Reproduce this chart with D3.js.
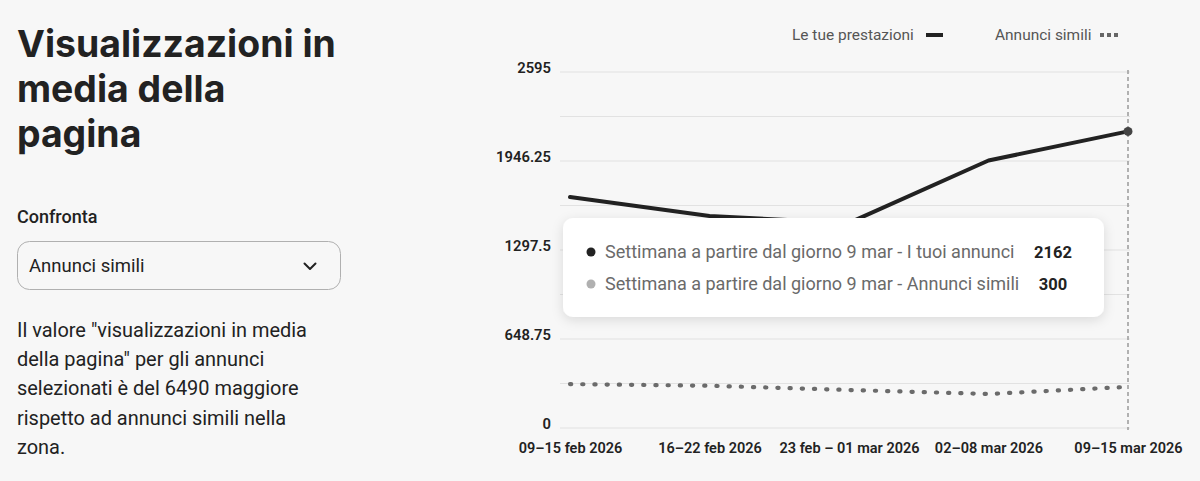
<!DOCTYPE html>
<html><head><meta charset="utf-8">
<script src="https://cdn.jsdelivr.net/npm/d3@7"></script>
<style>
html,body{margin:0;padding:0;background:#f7f7f7;}
svg{display:block;font-family:Roboto,"Noto Sans",sans-serif;}
</style></head><body>
<svg id="c" width="1200" height="481"></svg>
<script>
// ---- data ----
const categories = ["09–15 feb 2026","16–22 feb 2026","23 feb – 01 mar 2026","02–08 mar 2026","09–15 mar 2026"];
const yourValues = [1684, 1545, 1495, 1950, 2162];
const similarValues = [320, 308, 277, 248, 300];
const yMax = 2595;
const yGridTicks = [0, 324.375, 648.75, 973.125, 1297.5, 1621.875, 1946.25, 2270.625, 2595];
const yTickLabels = ["0", "648.75", "1297.5", "1946.25", "2595"];
const seriesNames = ["Le tue prestazioni", "Annunci simili"];
const titleLines = ["Visualizzazioni in", "media della", "pagina"];
const paragraphLines = ["Il valore \"visualizzazioni in media", "della pagina\" per gli annunci", "selezionati è del 6490 maggiore", "rispetto ad annunci simili nella", "zona."];
const tooltipLabels = ["Settimana a partire dal giorno 9 mar - I tuoi annunci", "Settimana a partire dal giorno 9 mar - Annunci simili"];

const svg = d3.select("#c");

// helper: fit font size so text reaches a target width
function fitSize(sel, target) {
  const w = sel.node().getComputedTextLength();
  const fs = parseFloat(sel.attr("font-size"));
  return fs * target / w;
}

// ---- left panel ----
const title = svg.append("g");
const t0 = title.append("text").attr("x", 17).attr("y", 57).attr("font-size", 36)
  .attr("font-weight", 700).attr("fill", "#222").attr("font-family", "Inter").text(titleLines[0]);
const tfs = fitSize(t0, 319);
t0.attr("font-size", tfs);
titleLines.forEach((l, i) => {
  if (i === 0) return;
  title.append("text").attr("x", 17).attr("y", 57 + i * 45).attr("font-size", tfs)
    .attr("font-weight", 700).attr("fill", "#222").attr("font-family", "Inter").text(l);
});

svg.append("text").attr("x", 17).attr("y", 223).attr("font-size", 18).attr("font-weight", 500)
  .attr("fill", "#222").text("Confronta");

svg.append("rect").attr("x", 17.5).attr("y", 241.5).attr("width", 323).attr("height", 48).attr("rx", 12)
  .attr("fill", "#f7f7f7").attr("stroke", "#b0b0b0").attr("stroke-width", 1);
svg.append("text").attr("x", 29).attr("y", 272).attr("font-size", 18.5).attr("fill", "#222").text(seriesNames[1]);
svg.append("path").attr("d", "M304.5,263.5 L310,269 L315.5,263.5").attr("fill", "none")
  .attr("stroke", "#222").attr("stroke-width", 2).attr("stroke-linecap", "round").attr("stroke-linejoin", "round");

const p0 = svg.append("text").attr("x", 17).attr("y", 337).attr("font-size", 18).attr("fill", "#222").text(paragraphLines[0]);
const pfs = fitSize(p0, 290);
p0.attr("font-size", pfs);
paragraphLines.forEach((l, i) => {
  if (i === 0) return;
  svg.append("text").attr("x", 17).attr("y", 337 + i * 29.2).attr("font-size", pfs).attr("fill", "#222").text(l);
});

// ---- chart ----
const x = d3.scalePoint().domain(categories).range([570, 1128]);
const y = d3.scaleLinear().domain([0, yMax]).range([428, 72]);

const grid = svg.append("g");
grid.selectAll("line").data(yGridTicks).join("line")
  .attr("x1", 560).attr("x2", 1130)
  .attr("y1", d => y(d)).attr("y2", d => y(d))
  .attr("stroke", "#e2e2e2").attr("stroke-width", 1.2);

// y axis labels
const yAxis = d3.axisLeft(y).tickValues(yGridTicks.filter((d, i) => i % 2 === 0))
  .tickFormat((d, i) => yTickLabels[i]).tickSize(0).tickPadding(0);
const ya = svg.append("g").attr("transform", "translate(551,-4)").call(yAxis);
ya.select(".domain").remove();
ya.selectAll("text").attr("font-size", 14.8).attr("font-weight", 600).attr("fill", "#222")
  .attr("font-family", "Roboto");

// x axis labels
const xAxis = d3.axisBottom(x).tickSize(0).tickPadding(0);
const xa = svg.append("g").attr("transform", "translate(0,443)").call(xAxis);
xa.select(".domain").remove();
xa.selectAll("text").attr("font-size", 14.5).attr("font-weight", 600).attr("fill", "#222")
  .attr("font-family", "Roboto");

// vertical hover line
const last = categories[categories.length - 1];
svg.append("line").attr("x1", x(last)).attr("x2", x(last)).attr("y1", 70).attr("y2", 430)
  .attr("stroke", "#9a9a9a").attr("stroke-width", 1.5).attr("stroke-dasharray", "4,3");

// similar series (dotted)
const line = d3.line().x((d, i) => x(categories[i])).y(d => y(d));
svg.append("path").datum(similarValues).attr("d", line).attr("fill", "none")
  .attr("stroke", "#6b6b6b").attr("stroke-width", 4.2).attr("stroke-linecap", "round")
  .attr("stroke-dasharray", "1.2,11");

// your series
svg.append("path").datum(yourValues).attr("d", line).attr("fill", "none")
  .attr("stroke", "#222").attr("stroke-width", 4).attr("stroke-linecap", "round").attr("stroke-linejoin", "round");

svg.append("circle").attr("cx", x(last)).attr("cy", y(yourValues[yourValues.length - 1])).attr("r", 4.5)
  .attr("fill", "#444");

// legend
const leg1 = svg.append("text").attr("x", 792).attr("y", 40).attr("font-size", 14).attr("fill", "#555").text(seriesNames[0]);
const lfs = fitSize(leg1, 122);
leg1.attr("font-size", lfs);
svg.append("line").attr("x1", 926).attr("x2", 943).attr("y1", 35).attr("y2", 35)
  .attr("stroke", "#222").attr("stroke-width", 4);
svg.append("text").attr("x", 995).attr("y", 40).attr("font-size", lfs).attr("fill", "#555").text(seriesNames[1]);
svg.append("line").attr("x1", 1100).attr("x2", 1119).attr("y1", 35).attr("y2", 35)
  .attr("stroke", "#666").attr("stroke-width", 4).attr("stroke-dasharray", "4,3");

// tooltip
const defs = svg.append("defs");
const f = defs.append("filter").attr("id", "sh").attr("x", "-10%").attr("y", "-30%").attr("width", "120%").attr("height", "170%");
f.append("feDropShadow").attr("dx", 0).attr("dy", 3).attr("stdDeviation", 6).attr("flood-color", "#000").attr("flood-opacity", 0.12);
svg.append("rect").attr("x", 563).attr("y", 218).attr("width", 541).attr("height", 99).attr("rx", 10)
  .attr("fill", "#fff").attr("filter", "url(#sh)");
const tipVals = [yourValues[yourValues.length - 1], similarValues[similarValues.length - 1]];
const tipColors = ["#222", "#b0b0b0"];
let tipFs = 16;
tooltipLabels.forEach((l, i) => {
  const cy = 252 + i * 32;
  svg.append("circle").attr("cx", 591).attr("cy", cy).attr("r", 4.5).attr("fill", tipColors[i]);
  const t = svg.append("text").attr("x", 605).attr("y", cy + 6).attr("font-size", 16).attr("fill", "#6a6a6a").text(l);
  if (i === 0) { tipFs = fitSize(t, 410); }
  t.attr("font-size", tipFs);
  svg.append("text").attr("x", 1053).attr("y", cy + 6).attr("font-size", 16.5).attr("font-weight", 700)
    .attr("text-anchor", "middle").attr("fill", "#222").text(d3.format("d")(tipVals[i]));
});
</script>
</body></html>
